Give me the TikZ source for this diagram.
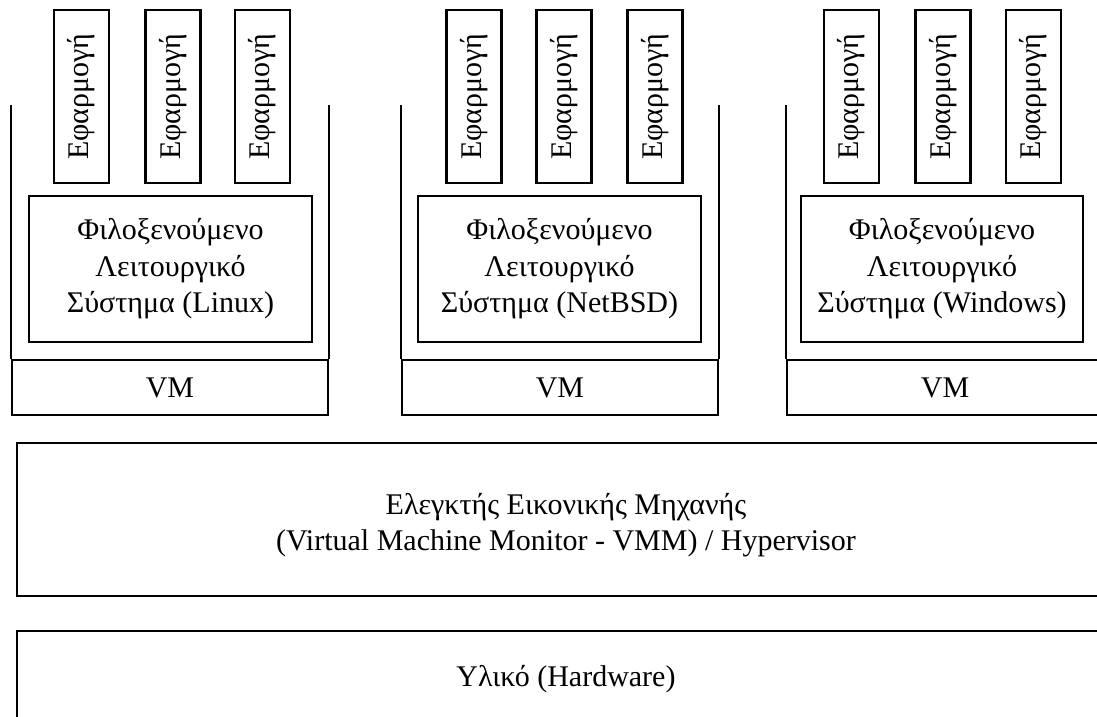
\documentclass[tikz,border=0pt]{standalone}
\usepackage{fontspec}
\setmainfont{Liberation Serif}
\begin{document}
\begin{tikzpicture}[x=1pt,y=-1pt,line width=2.2pt,
  box/.style={draw=black,inner sep=0pt,align=center,font=\fontsize{30}{36.5}\selectfont},
  app/.style={box,rotate=90,minimum width=173pt,minimum height=55pt},
  osbox/.style={box,minimum width=283pt,minimum height=146pt},
  vmbox/.style={box,minimum width=316pt,minimum height=55pt},
  wall/.style={draw=black},
  txt/.style={inner sep=0pt,align=center,font=\fontsize{30}{36.5}\selectfont}]
\path[use as bounding box,clip] (0,0) rectangle (1097,717);
\fill[white] (0,0) rectangle (1097,717);
% group 1
\node[app] (a11) at (81.5,96.5) {Εφαρμογή};
\node[app] (a12) at (173,96.5) {Εφαρμογή};
\node[app] (a13) at (262.5,96.5) {Εφαρμογή};
\node[osbox] (os1) at (170.5,269) {Φιλοξενούμενο\\Λειτουργικό\\Σύστημα (Linux)};
\node[vmbox] (vm1) at (170,387.5) {VM};
\draw[wall] (vm1.north west) -- (vm1.north west |- 0,105);
\draw[wall] (vm1.north east) -- (vm1.north east |- 0,105);
% group 2
\node[app] (a21) at (474,96.5) {Εφαρμογή};
\node[app] (a22) at (564,96.5) {Εφαρμογή};
\node[app] (a23) at (655,96.5) {Εφαρμογή};
\node[osbox] (os2) at (559.5,269) {Φιλοξενούμενο\\Λειτουργικό\\Σύστημα (NetBSD)};
\node[vmbox] (vm2) at (560,387.5) {VM};
\draw[wall] (vm2.north west) -- (vm2.north west |- 0,105);
\draw[wall] (vm2.north east) -- (vm2.north east |- 0,105);
% group 3
\node[app] (a31) at (851.5,96.5) {Εφαρμογή};
\node[app] (a32) at (943,96.5) {Εφαρμογή};
\node[app] (a33) at (1033.5,96.5) {Εφαρμογή};
\node[osbox,minimum width=282pt] (os3) at (942,269) {Φιλοξενούμενο\\Λειτουργικό\\Σύστημα (Windows)};
\node[vmbox] (vm3) at (945,387.5) {VM};
\draw[wall] (vm3.north west) -- (vm3.north west |- 0,105);
\draw[wall] (vm3.north east) -- (vm3.north east |- 0,105);
% hypervisor
\node[box,minimum width=1098pt,minimum height=153pt] (vmm) at (566,519.5) {};
\node[txt] (vmmt) at (566,525)
  {Ελεγκτής Εικονικής Μηχανής\\(Virtual Machine Monitor - VMM) / Hypervisor};
% hardware
\node[box,minimum width=1098pt,minimum height=153pt] (hw) at (566,707.5) {};
\node[txt] (hwt) at (566,679) {Υλικό (Hardware)};
\end{tikzpicture}
\end{document}
